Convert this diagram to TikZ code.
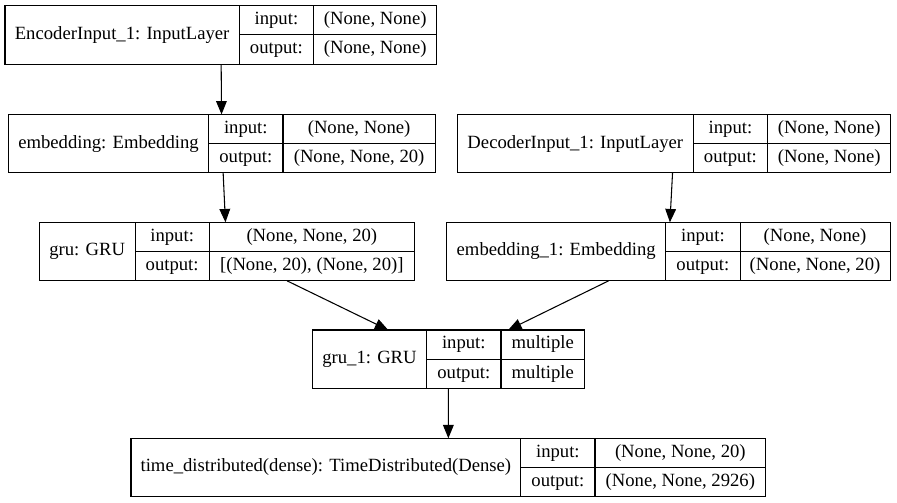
\documentclass[tikz,border=0pt]{standalone}
\usepackage{fontspec}
\setmainfont{Liberation Serif}
\usetikzlibrary{arrows.meta,fit}
\tikzset{
  cell/.style={draw, rectangle, anchor=north west, inner sep=0pt, outer sep=0pt,
    line width=0.8pt, text height=9.5pt, text depth=3pt},
  namecell/.style={cell, minimum height=43.9pt},
  keycell/.style={cell, minimum width=55.7pt, minimum height=21.95pt},
  valcell/.style={cell, minimum height=21.95pt},
  layer/.style={inner sep=0pt, outer sep=0pt},
  edge/.style={-{Triangle[length=10pt,width=8pt]}, line width=0.8pt}
}
\begin{document}
\begin{tikzpicture}[x=0.75pt, y=-0.75pt, font=\fontsize{14}{16}\selectfont]
      \useasboundingbox (0,0) rectangle (897,503);
      \node[namecell, minimum width=175.7pt] (enc-nm) at (5,5.7) {EncoderInput\_1: InputLayer};
      \node[keycell] (enc-ik) at (enc-nm.north east) {input:};
      \node[keycell] (enc-ok) at (enc-ik.south west) {output:};
      \node[valcell, minimum width=92.5pt] (enc-iv) at (enc-ik.north east) {(None, None)};
      \node[valcell, minimum width=92.5pt] (enc-ov) at (enc-iv.south west) {(None, None)};
      \node[layer, fit=(enc-nm)(enc-ov)] (enc) {};

      \node[namecell, minimum width=150.3pt] (emb-nm) at (8.3,114.4) {embedding: Embedding};
      \node[keycell] (emb-ik) at (emb-nm.north east) {input:};
      \node[keycell] (emb-ok) at (emb-ik.south west) {output:};
      \node[valcell, minimum width=114.2pt] (emb-iv) at (emb-ik.north east) {(None, None)};
      \node[valcell, minimum width=114.2pt] (emb-ov) at (emb-iv.south west) {(None, None, 20)};
      \node[layer, fit=(emb-nm)(emb-ov)] (emb) {};

      \node[namecell, minimum width=177pt] (dec-nm) at (457.3,114.4) {DecoderInput\_1: InputLayer};
      \node[keycell] (dec-ik) at (dec-nm.north east) {input:};
      \node[keycell] (dec-ok) at (dec-ik.south west) {output:};
      \node[valcell, minimum width=92.5pt] (dec-iv) at (dec-ik.north east) {(None, None)};
      \node[valcell, minimum width=92.5pt] (dec-ov) at (dec-iv.south west) {(None, None)};
      \node[layer, fit=(dec-nm)(dec-ov)] (dec) {};

      \node[namecell, minimum width=71.8pt] (gru-nm) at (39.3,222.3) {gru: GRU};
      \node[keycell] (gru-ik) at (gru-nm.north east) {input:};
      \node[keycell] (gru-ok) at (gru-ik.south west) {output:};
      \node[valcell, minimum width=153.8pt] (gru-iv) at (gru-ik.north east) {(None, None, 20)};
      \node[valcell, minimum width=153.8pt] (gru-ov) at (gru-iv.south west) {[(None, 20), (None, 20)]};
      \node[layer, fit=(gru-nm)(gru-ov)] (gru) {};

      \node[namecell, minimum width=164.3pt] (emb1-nm) at (446.7,222.3) {embedding\_1: Embedding};
      \node[keycell] (emb1-ik) at (emb1-nm.north east) {input:};
      \node[keycell] (emb1-ok) at (emb1-ik.south west) {output:};
      \node[valcell, minimum width=112.5pt] (emb1-iv) at (emb1-ik.north east) {(None, None)};
      \node[valcell, minimum width=112.5pt] (emb1-ov) at (emb1-iv.south west) {(None, None, 20)};
      \node[layer, fit=(emb1-nm)(emb1-ov)] (emb1) {};

      \node[namecell, minimum width=85.8pt] (gru1-nm) at (312.3,330) {gru\_1: GRU};
      \node[keycell] (gru1-ik) at (gru1-nm.north east) {input:};
      \node[keycell] (gru1-ok) at (gru1-ik.south west) {output:};
      \node[valcell, minimum width=62.7pt] (gru1-iv) at (gru1-ik.north east) {multiple};
      \node[valcell, minimum width=62.7pt] (gru1-ov) at (gru1-iv.south west) {multiple};
      \node[layer, fit=(gru1-nm)(gru1-ov)] (gru1) {};

      \node[namecell, minimum width=292.3pt] (td-nm) at (131,438.3) {time\_distributed(dense): TimeDistributed(Dense)};
      \node[keycell] (td-ik) at (td-nm.north east) {input:};
      \node[keycell] (td-ok) at (td-ik.south west) {output:};
      \node[valcell, minimum width=128pt] (td-iv) at (td-ik.north east) {(None, None, 20)};
      \node[valcell, minimum width=128pt] (td-ov) at (td-iv.south west) {(None, None, 2926)};
      \node[layer, fit=(td-nm)(td-ov)] (td) {};

      \begin{scope}[edge]
        \draw (enc) to (emb);
        \draw (emb) to (gru);
        \draw (dec) to (emb1);
        \draw (gru) to (gru1);
        \draw (emb1) to (gru1);
        \draw (gru1) to (td);
      \end{scope}
    \end{tikzpicture}
\end{document}
